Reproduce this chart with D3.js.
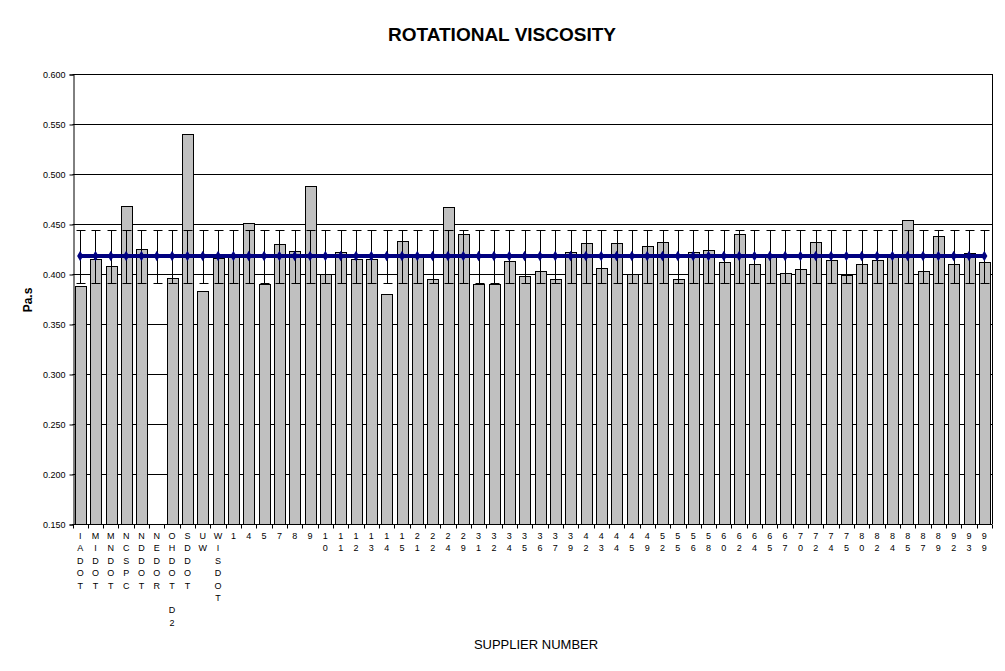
<!DOCTYPE html>
<html>
<head>
<meta charset="utf-8">
<script src="https://cdn.jsdelivr.net/npm/d3@7"></script>
<style>
  body { margin: 0; background: #fff; }
  svg { display: block; font-family: Arial, "Liberation Sans", sans-serif; }
</style>
</head>
<body>
<div id="chart"></div>
<script>
// supplier labels as printed under the axis
const suppliers = ["IA DOT", "MI DOT", "MN DOT", "NC SPC", "ND DOT", "NE DOR", "OH DOT D2", "SD DOT", "UW", "WI SDOT",
  "1", "4", "5", "7", "8", "9", "10", "11", "12", "13", "14", "15", "21", "22", "24", "29",
  "31", "32", "34", "35", "36", "37", "39", "42", "43", "44", "45", "49", "52", "55", "56", "58",
  "60", "62", "64", "65", "67", "70", "72", "74", "75", "80", "82", "84", "85", "87", "89", "92", "93", "99"];

// rotational viscosity, Pa.s (NE DOR has no result)
const viscosity = [0.388, 0.415, 0.408, 0.468, 0.425, null, 0.396, 0.540, 0.383, 0.416,
  0.419, 0.451, 0.390, 0.430, 0.423, 0.488, 0.400, 0.422, 0.415, 0.415, 0.380, 0.433, 0.420, 0.395, 0.467, 0.440,
  0.390, 0.390, 0.413, 0.398, 0.403, 0.395, 0.422, 0.431, 0.406, 0.431, 0.400, 0.428, 0.432, 0.395, 0.422, 0.424,
  0.412, 0.440, 0.410, 0.419, 0.401, 0.405, 0.432, 0.414, 0.399, 0.410, 0.414, 0.419, 0.454, 0.403, 0.438, 0.410, 0.421, 0.412];

const overallMean = 0.418;
const errorAmount = 0.0265;

const yTicks = [0.150, 0.200, 0.250, 0.300, 0.350, 0.400, 0.450, 0.500, 0.550, 0.600];

const width = 1005, height = 671;
const margin = { top: 74, right: 13, bottom: 147, left: 72.5 };

let svg = d3.select("#chart").append("svg")
  .attr("width", width)
  .attr("height", height);

let x = d3.scaleBand()
  .domain(suppliers)
  .range([margin.left, width - margin.right])
  .paddingInner(0.31)
  .paddingOuter(0.155);

let y = d3.scaleLinear()
  .domain([0.15, 0.6])
  .range([height - margin.bottom, margin.top]);

let plotLeft = margin.left, plotRight = width - margin.right;
let step = x.step();

// title
svg.append("text")
  .attr("x", 502).attr("y", 41)
  .attr("text-anchor", "middle")
  .style("font-size", "19px").style("font-weight", "bold")
  .text("ROTATIONAL VISCOSITY");

// gridlines
svg.append("g")
  .selectAll("line")
  .data(yTicks)
  .enter().append("line")
  .attr("x1", plotLeft).attr("x2", plotRight)
  .attr("y1", d => Math.round(y(d)) + 0.5).attr("y2", d => Math.round(y(d)) + 0.5)
  .attr("stroke", "#000").attr("stroke-width", 1);

// right border
svg.append("line")
  .attr("x1", Math.round(plotRight) + 0.5).attr("x2", Math.round(plotRight) + 0.5)
  .attr("y1", y(0.6)).attr("y2", y(0.15))
  .attr("stroke", "#000");

// bars
svg.append("g")
  .selectAll("rect")
  .data(suppliers.map((s, i) => ({ s: s, v: viscosity[i] })).filter(d => d.v !== null))
  .enter().append("rect")
  .attr("x", d => Math.round(x(d.s)) + 0.5)
  .attr("y", d => Math.round(y(d.v)) + 0.5)
  .attr("width", Math.round(x.bandwidth()))
  .attr("height", d => Math.round(y(0.15)) - Math.round(y(d.v)))
  .attr("fill", "#c0c0c0")
  .attr("stroke", "#000")
  .attr("stroke-width", 1);

// y axis
let yAxis = d3.axisLeft(y)
  .tickValues(yTicks)
  .tickFormat(d3.format(".3f"))
  .tickSize(4)
  .tickPadding(4);

let yg = svg.append("g")
  .attr("transform", "translate(" + (Math.round(plotLeft) + 0.5) + ",0.5)")
  .call(yAxis);
yg.select(".domain").attr("stroke", "#000");
yg.selectAll("text").style("font-size", "9px").style("font-family", "Arial, 'Liberation Sans', sans-serif").attr("fill", "#000");

// x axis line and ticks at category boundaries
let baseY = Math.round(y(0.15)) + 0.5;
svg.append("line")
  .attr("x1", plotLeft).attr("x2", plotRight)
  .attr("y1", baseY).attr("y2", baseY)
  .attr("stroke", "#000");

svg.append("g")
  .selectAll("line")
  .data(d3.range(suppliers.length + 1))
  .enter().append("line")
  .attr("x1", i => Math.round(plotLeft + i * step) + 0.5)
  .attr("x2", i => Math.round(plotLeft + i * step) + 0.5)
  .attr("y1", baseY).attr("y2", baseY + 4)
  .attr("stroke", "#000");

// stacked category labels, one character per row
let labels = svg.append("g")
  .selectAll("text")
  .data(suppliers)
  .enter().append("text")
  .attr("text-anchor", "middle")
  .style("font-size", "9px");

labels.each(function(d) {
  let chars = d.replace(" ", "").split("");
  let cx = x(d) + x.bandwidth() / 2;
  d3.select(this).selectAll("tspan")
    .data(chars)
    .enter().append("tspan")
    .attr("x", cx)
    .attr("y", (c, i) => 539 + i * 12.4)
    .text(c => c === " " ? "\u00a0" : c);
});

// error bars around overall mean
let errG = svg.append("g");
suppliers.forEach(s => {
  let cx = Math.round(x(s) + x.bandwidth() / 2) + 0.5;
  let top = Math.round(y(overallMean + errorAmount)) + 0.5;
  let bot = Math.round(y(overallMean - errorAmount)) + 0.5;
  errG.append("line").attr("x1", cx).attr("x2", cx).attr("y1", top).attr("y2", bot).attr("stroke", "#000");
  errG.append("line").attr("x1", cx - 4).attr("x2", cx + 5).attr("y1", top).attr("y2", top).attr("stroke", "#000");
  errG.append("line").attr("x1", cx - 4).attr("x2", cx + 5).attr("y1", bot).attr("y2", bot).attr("stroke", "#000");
});

// mean line with markers
let line = d3.line()
  .x(d => x(d) + x.bandwidth() / 2)
  .y(() => y(overallMean));

svg.append("path")
  .datum(suppliers)
  .attr("d", line)
  .attr("fill", "none")
  .attr("stroke", "#000080")
  .attr("stroke-width", 4);

svg.append("g")
  .selectAll("path")
  .data(suppliers)
  .enter().append("path")
  .attr("transform", d => "translate(" + (x(d) + x.bandwidth() / 2) + "," + y(overallMean) + ")")
  .attr("d", d3.symbol().type(d3.symbolDiamond).size(32))
  .attr("fill", "#000080");

// axis titles
svg.append("text")
  .attr("transform", "translate(31.5,300) rotate(-90)")
  .attr("text-anchor", "middle")
  .style("font-size", "12px").style("font-weight", "bold")
  .text("Pa.s");

svg.append("text")
  .attr("x", 536).attr("y", 649)
  .attr("text-anchor", "middle")
  .style("font-size", "13px")
  .text("SUPPLIER NUMBER");
</script>
</body>
</html>
